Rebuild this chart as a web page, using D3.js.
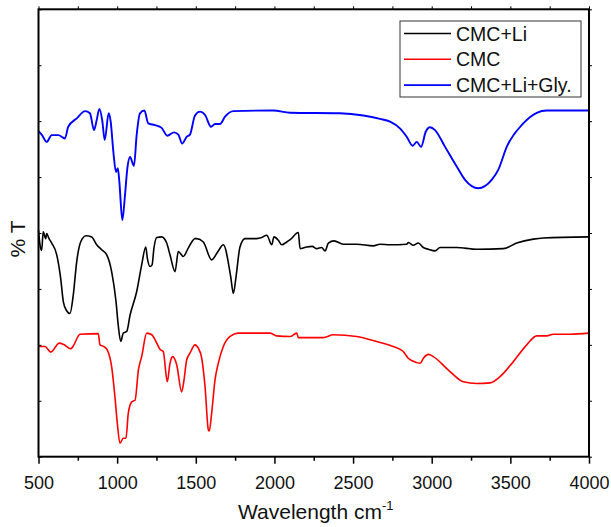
<!DOCTYPE html>
<html>
<head>
<meta charset="utf-8">
<script src="https://cdn.jsdelivr.net/npm/d3@7"></script>
<style>
  body { margin: 0; background: #fff; }
  text { font-family: "Liberation Sans", Arial, sans-serif; fill: #111; }
</style>
</head>
<body>
<svg></svg>
<script>
// series: [wavenumber, %T offset]
const cmcLi = [[500,40.5],[510,37.8],[520,36.9],[530,40.2],[546,39.0],[552,39.9],[567,39.0],[584,38.2],[616,36.1],[641,31.9],[658,27.7],[679,26.1],[700,25.6],[721,28.9],[743,34.9],[768,38.4],[802,39.5],[838,39.3],[870,37.9],[902,37.0],[934,36.1],[965,33.1],[993,27.7],[1007,23.5],[1023,20.6],[1039,22.1],[1061,22.4],[1082,25.3],[1124,29.5],[1156,34.3],[1182,37.5],[1192,35.5],[1209,34.0],[1222,34.3],[1234,37.3],[1252,39.2],[1283,39.3],[1315,38.2],[1336,36.1],[1368,33.1],[1389,36.7],[1421,35.8],[1452,37.3],[1495,39.0],[1506,39.0],[1548,38.4],[1601,35.2],[1643,36.8],[1675,37.9],[1722,32.2],[1739,29.2],[1756,32.2],[1781,37.5],[1813,39.0],[1887,39.0],[1920,39.2],[1951,39.6],[1983,37.9],[1997,39.3],[2025,38.7],[2046,37.9],[2078,38.4],[2100,38.8],[2152,40.1],[2163,37.2],[2205,37.5],[2240,37.6],[2269,37.2],[2300,37.4],[2322,36.8],[2343,38.2],[2379,38.6],[2438,38.0],[2523,38.0],[2629,37.7],[2671,38.0],[2735,37.9],[2841,38.0],[2851,38.3],[2883,37.8],[2915,38.2],[2947,37.4],[2978,37.1],[3021,36.8],[3053,37.4],[3159,37.4],[3286,37.1],[3455,37.2],[3540,38.2],[3646,38.9],[3709,39.1],[4000,39.3]];

const cmc = [[500,19.7],[541,19.7],[578,18.7],[632,20.3],[658,20.1],[705,19.3],[721,19.8],[764,21.9],[880,22.0],[891,20.0],[916,19.7],[937,19.1],[965,16.1],[986,10.7],[1001,6.0],[1018,2.4],[1039,3.3],[1056,3.3],[1071,7.8],[1093,9.8],[1114,10.1],[1135,15.5],[1156,17.9],[1188,22.1],[1220,21.8],[1252,20.3],[1272,19.2],[1293,18.8],[1319,13.4],[1336,16.7],[1353,17.9],[1379,16.4],[1410,11.6],[1425,13.7],[1442,17.3],[1463,18.5],[1495,20.0],[1516,19.4],[1538,17.6],[1559,12.5],[1580,4.8],[1586,4.6],[1601,7.8],[1622,13.7],[1643,16.7],[1675,19.7],[1718,21.5],[1770,22.1],[1972,22.1],[2014,21.6],[2099,21.5],[2142,22.1],[2152,21.3],[2311,21.3],[2374,21.8],[2523,21.5],[2650,20.6],[2756,19.7],[2819,18.8],[2851,17.6],[2873,17.2],[2926,16.7],[2947,17.6],[2978,18.3],[3010,17.9],[3106,15.5],[3201,13.4],[3286,13.1],[3371,13.2],[3434,14.3],[3519,17.0],[3604,20.0],[3668,21.6],[3731,21.6],[3773,21.9],[3879,21.9],[4000,22.1]];

const cmcLiGly = [[500,58.2],[520,57.6],[552,56.3],[584,57.5],[626,57.5],[668,56.9],[689,59.0],[743,60.5],[796,61.8],[827,61.4],[853,58.4],[870,60.2],[887,62.2],[905,60.2],[921,56.6],[946,61.4],[959,59.9],[976,54.5],[993,50.9],[1004,51.6],[1014,49.2],[1033,42.3],[1050,46.8],[1065,51.6],[1082,53.6],[1107,52.0],[1124,57.5],[1145,61.4],[1173,61.9],[1198,59.6],[1241,59.3],[1283,58.8],[1319,57.4],[1362,58.0],[1389,57.6],[1414,56.0],[1442,57.2],[1463,57.6],[1495,61.0],[1527,61.7],[1559,61.1],[1597,59.0],[1622,59.5],[1654,59.5],[1686,60.8],[1739,61.8],[1993,61.9],[2099,61.5],[2417,61.4],[2565,61.0],[2671,60.4],[2735,59.9],[2798,58.7],[2841,57.2],[2879,55.6],[2905,56.3],[2932,55.4],[2962,58.1],[2989,58.9],[3021,58.4],[3085,55.4],[3159,51.9],[3212,49.5],[3296,48.0],[3381,49.5],[3423,51.3],[3477,55.4],[3582,59.6],[3668,61.5],[3731,61.9],[4000,61.9]];

const seriesNames = ['CMC+Li', 'CMC', 'CMC+Li+Gly.'];
const seriesColors = ['#000000', '#ff0000', '#0000ff'];
const xTicks = [500, 1000, 1500, 2000, 2500, 3000, 3500, 4000];
const yTicks = [0, 10, 20, 30, 40, 50, 60, 70, 80];

const W = 611, H = 527;
const margin = {left: 38.5, right: 22, top: 9.3, bottom: 70.3};

const svg = d3.select('svg').attr('width', W).attr('height', H);

const x = d3.scaleLinear().domain([500, 4000]).range([margin.left, W - margin.right]);
const y = d3.scaleLinear().domain([0, 80]).range([H - margin.bottom, margin.top]);

const line = d3.line()
  .x(d => x(d[0]))
  .y(d => y(d[1]))
  .curve(d3.curveMonotoneX);

const plot = svg.append('g');

[cmcLi, cmc, cmcLiGly].forEach((s, i) => {
  plot.append('path')
    .datum(s)
    .attr('fill', 'none')
    .attr('stroke', seriesColors[i])
    .attr('stroke-width', i == 2 ? 1.9 : 1.6)
    .attr('stroke-linejoin', 'round')
    .attr('d', line);
});

// axes
const minor = d3.range(750, 4000, 500);

svg.append('g')
  .attr('transform', `translate(0,${y(0)})`)
  .call(d3.axisBottom(x).tickValues(xTicks).tickSize(7).tickFormat(d3.format('d')))
  .call(g => g.select('.domain').remove())
  .call(g => g.selectAll('line').attr('stroke-width', 1.5))
  .call(g => g.selectAll('text').attr('font-size', 18).attr('y', 32).attr('dy', 0));

svg.append('g')
  .attr('transform', `translate(0,${y(0)})`)
  .call(d3.axisBottom(x).tickValues(minor).tickSize(4).tickFormat(''))
  .call(g => g.select('.domain').remove())
  .call(g => g.selectAll('line').attr('stroke-width', 1.5));

// top mirror ticks
svg.append('g')
  .attr('transform', `translate(0,${y(80)})`)
  .call(d3.axisTop(x).tickValues(xTicks.concat(minor)).tickSize(3).tickFormat(''))
  .call(g => g.select('.domain').remove());

// left / right ticks (no labels)
svg.append('g')
  .attr('transform', `translate(${x(500)},0)`)
  .call(d3.axisRight(y).tickValues(yTicks).tickSize(3).tickFormat(''))
  .call(g => g.select('.domain').remove());

svg.append('g')
  .attr('transform', `translate(${x(4000)},0)`)
  .call(d3.axisRight(y).tickValues(yTicks).tickSize(3).tickFormat(''))
  .call(g => g.select('.domain').remove());

// frame
svg.append('rect')
  .attr('x', x(500)).attr('y', y(80))
  .attr('width', x(4000) - x(500)).attr('height', y(0) - y(80))
  .attr('fill', 'none').attr('stroke', '#000').attr('stroke-width', 2);

// axis titles
const xt = svg.append('text')
  .attr('x', (x(500) + x(4000)) / 2 + 2)
  .attr('y', 519)
  .attr('text-anchor', 'middle')
  .attr('font-size', 21);
xt.append('tspan').text('Wavelength cm');
xt.append('tspan').attr('font-size', 13).attr('dy', -9).text('-1');

svg.append('text')
  .attr('transform', `translate(25,239) rotate(-90)`)
  .attr('text-anchor', 'middle')
  .attr('font-size', 21)
  .text('% T');

// legend
const legend = svg.append('g').attr('transform', 'translate(400,21)');
legend.append('rect')
  .attr('width', 181).attr('height', 76)
  .attr('fill', '#fff').attr('stroke', '#333').attr('stroke-width', 1);

const item = legend.selectAll('.legend')
  .data(seriesNames)
  .enter()
  .append('g')
  .attr('class', 'legend')
  .attr('transform', (d, i) => `translate(0,${12.5 + i * 25.8})`);

item.append('line')
  .attr('x1', 4).attr('x2', 51)
  .attr('stroke', (d, i) => seriesColors[i])
  .attr('stroke-width', (d, i) => i == 2 ? 1.9 : 1.5);

item.append('text')
  .attr('x', 56)
  .attr('dy', '0.36em')
  .attr('font-size', 19.5)
  .text(d => d);
</script>
</body>
</html>
